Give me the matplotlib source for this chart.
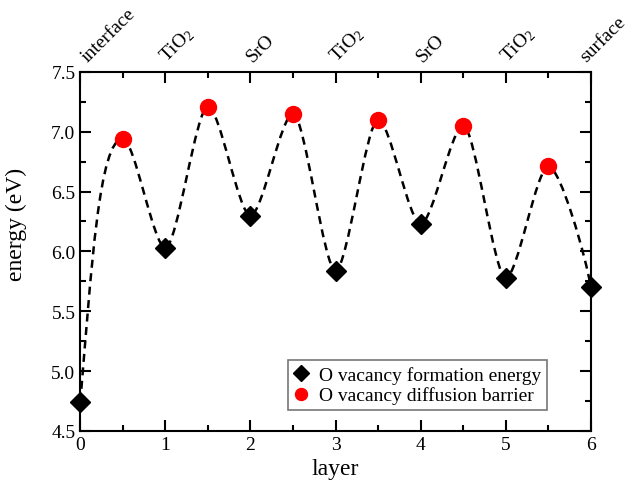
import numpy as np
import matplotlib
matplotlib.use("Agg")
import matplotlib.pyplot as plt
from matplotlib.path import Path
from matplotlib.patches import PathPatch
from matplotlib.ticker import MultipleLocator

plt.rcParams['font.family'] = ['Liberation Serif', 'DejaVu Serif']
plt.rcParams['mathtext.fontset'] = 'custom'
plt.rcParams['mathtext.rm'] = 'Liberation Serif'
plt.rcParams['mathtext.it'] = 'Liberation Serif:italic'

# formation energy at whole layers, diffusion barrier between layers
layer_form = [0, 1, 2, 3, 4, 5, 6]
e_form = [4.74, 6.03, 6.30, 5.84, 6.23, 5.78, 5.70]
layer_diff = [0.5, 1.5, 2.5, 3.5, 4.5, 5.5]
e_diff = [6.94, 7.21, 7.15, 7.10, 7.05, 6.71]
top_labels = ['interface', r'TiO$_2$', 'SrO', r'TiO$_2$', 'SrO', r'TiO$_2$', 'surface']

fig = plt.figure(figsize=(6.32, 4.89), dpi=100)
ax = fig.add_axes([0.127, 0.1166, 0.808, 0.7344])

# smooth dashed guide through all points (bezier, flat tangents at extrema)
xs = sorted(layer_form + layer_diff)
ys = [dict(zip(layer_form + layer_diff, e_form + e_diff))[x] for x in xs]
verts = [(xs[0], ys[0])]
codes = [Path.MOVETO]
n = len(xs)
h = 0.28
for i in range(n - 1):
    x0, y0, x1, y1 = xs[i], ys[i], xs[i + 1], ys[i + 1]
    dx = x1 - x0
    if i == 0:
        # steep start from the interface
        c1 = (x0 + 0.26 * dx, y0 + 0.5 * (y1 - y0))
        c2 = (x1 - 0.56 * dx, y1)
    elif i == n - 2:
        c1 = (x0 + h * dx, y0)
        c2 = (x1 - 0.12 * dx, y1 + 0.25 * (y0 - y1))
    else:
        c1 = (x0 + h * dx, y0)
        c2 = (x1 - h * dx, y1)
    verts += [c1, c2, (x1, y1)]
    codes += [Path.CURVE4] * 3
ax.add_patch(PathPatch(Path(verts, codes), fill=False, ls=(0, (3.2, 2.2)),
                       lw=1.8, ec='black', zorder=2))

ax.plot(layer_form, e_form, 'D', color='black', ms=10.5, ls='none',
        label='O vacancy formation energy', zorder=3, clip_on=False)
ax.plot(layer_diff, e_diff, 'o', color='red', ms=11.5, ls='none',
        label='O vacancy diffusion barrier', zorder=3)

ax.set_xlim(0, 6)
ax.set_ylim(4.5, 7.5)
ax.xaxis.set_major_locator(MultipleLocator(1))
ax.xaxis.set_minor_locator(MultipleLocator(0.5))
ax.yaxis.set_major_locator(MultipleLocator(0.5))
ax.yaxis.set_minor_locator(MultipleLocator(0.25))
ax.tick_params(which='both', direction='in', top=True, right=True, width=1.5,
               labelsize=14)
ax.tick_params(which='major', length=8)
ax.tick_params(which='minor', length=4)
ax.set_yticks(np.arange(4.5, 7.51, 0.5))
ax.set_yticklabels(['%.1f' % v for v in np.arange(4.5, 7.51, 0.5)])
for s in ax.spines.values():
    s.set_linewidth(1.5)

ax.set_xlabel('layer', fontsize=17)
ax.set_ylabel('energy (eV)', fontsize=17)
ax.yaxis.set_label_coords(-0.105, 0.577)

# layer names along the top
for i, (x, lbl) in enumerate(zip(layer_form, top_labels)):
    shift = 7 if i == 0 else (-1.5 if i == len(layer_form) - 1 else 3.5)
    ax.annotate(lbl, (x, 1), xycoords=('data', 'axes fraction'),
                xytext=(shift, 5), textcoords='offset points', fontsize=14,
                rotation=45, ha='left', va='bottom', rotation_mode='anchor')

leg = ax.legend(loc='lower right', bbox_to_anchor=(0.914, 0.058), fontsize=14,
                handlelength=0.8, handletextpad=0.5, borderpad=0.3,
                labelspacing=0.15, borderaxespad=0, markerscale=0.75,
                fancybox=False, framealpha=1)
leg.get_frame().set_edgecolor('#777777')
leg.get_frame().set_linewidth(1.2)

fig.savefig('out.png', dpi=100)
